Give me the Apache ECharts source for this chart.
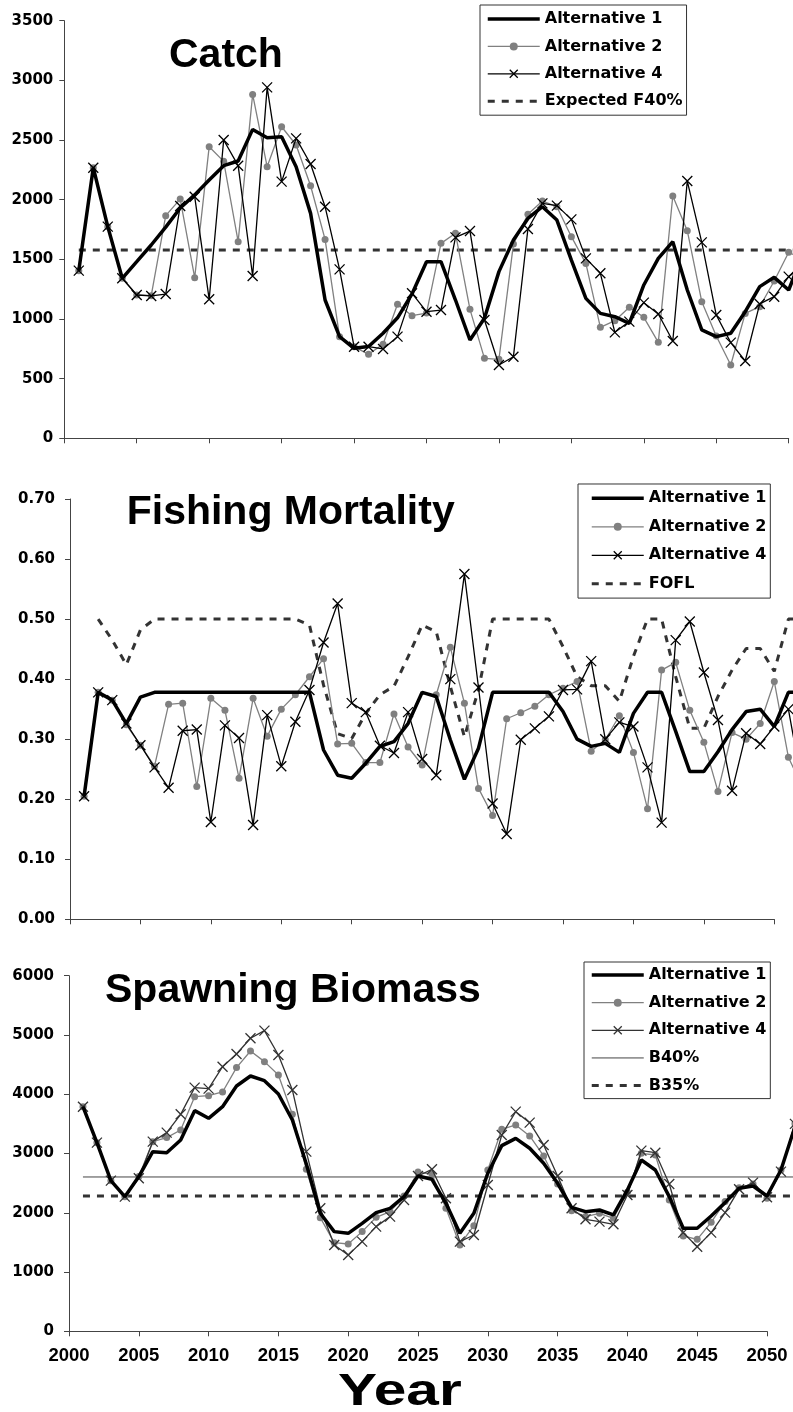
<!DOCTYPE html>
<html><head><meta charset="utf-8">
<script src="https://cdn.jsdelivr.net/npm/echarts@6/dist/echarts.min.js"></script>
<style>
html,body{margin:0;padding:0;background:#fff;width:793px;height:1412px;overflow:hidden;position:relative}
.c{position:absolute;left:0;width:900px}
</style></head>
<body>
<div id="c1" class="c" style="top:0;height:470px"></div>
<div id="c2" class="c" style="top:470px;height:480px"></div>
<div id="c3" class="c" style="top:950px;height:462px"></div>
<script>
// ---------- DATA ----------
const years = [2001,2002,2003,2004,2005,2006,2007,2008,2009,2010,
  2011,2012,2013,2014,2015,2016,2017,2018,2019,2020,
  2021,2022,2023,2024,2025,2026,2027,2028,2029,2030,
  2031,2032,2033,2034,2035,2036,2037,2038,2039,2040,
  2041,2042,2043,2044,2045,2046,2047,2048,2049,2050,
  2051,2052];

// Catch (2001-2051)
const catchAlt1 = [1405,2268,1774,1341,1480,1620,1770,1930,2040,2165,
  2285,2324,2589,2519,2528,2276,1885,1159,852,754,
  770,880,1010,1210,1480,1480,1159,824,1006,1397,
  1662,1843,1941,1829,1494,1173,1047,1019,964,1285,
  1508,1648,1243,908,852,880,1061,1271,1349,1243,1550];
const catchAlt2 = [1405,2268,1774,1341,1201,1195,1866,2005,1346,2444,
  2321,1648,2882,2276,2611,2458,2117,1667,852,768,
  704,788,1123,1028,1050,1634,1718,1081,670,662,
  1628,1877,1989,1941,1690,1466,930,986,1098,1014,
  804,2031,1740,1145,857,614,1047,1103,1318,1559,1500];
const catchAlt4 = [1405,2268,1774,1341,1201,1193,1209,1947,2025,1165,
  2500,2285,1360,2941,2151,2514,2299,1941,1416,768,
  768,749,852,1215,1061,1075,1684,1737,991,614,
  684,1754,1969,1950,1835,1508,1383,888,978,1137,
  1042,816,2156,1642,1033,802,648,1126,1187,1355,1450];
const catchF40 = 1578;
const catchF40Years = [2001, 2052];

// Fishing mortality (2001-2052)
const fAlt1 = [0.205,0.378,0.365,0.326,0.370,0.378,0.378,0.378,0.378,0.378,
  0.378,0.378,0.378,0.378,0.378,0.378,0.378,0.282,0.240,0.235,
  0.260,0.288,0.296,0.326,0.378,0.371,0.299,0.233,0.285,0.378,
  0.378,0.378,0.378,0.378,0.346,0.300,0.288,0.293,0.278,0.343,
  0.378,0.378,0.313,0.246,0.246,0.279,0.316,0.346,0.350,0.321,
  0.378,0.378];
const fAlt2 = [0.205,0.378,0.365,0.324,0.290,0.255,0.358,0.360,0.221,0.368,
  0.348,0.235,0.368,0.305,0.350,0.374,0.404,0.434,0.292,0.293,
  0.261,0.261,0.342,0.287,0.257,0.374,0.453,0.360,0.218,0.173,
  0.334,0.344,0.355,0.374,0.385,0.396,0.280,0.299,0.339,0.278,
  0.184,0.415,0.428,0.348,0.295,0.213,0.311,0.300,0.326,0.396,
  0.270,0.220];
const fAlt4 = [0.205,0.378,0.365,0.326,0.290,0.253,0.219,0.314,0.316,0.162,
  0.323,0.302,0.157,0.340,0.255,0.329,0.382,0.461,0.526,0.360,
  0.345,0.289,0.277,0.345,0.267,0.240,0.400,0.575,0.386,0.193,
  0.142,0.299,0.318,0.338,0.382,0.383,0.430,0.300,0.328,0.321,
  0.253,0.161,0.465,0.496,0.411,0.332,0.214,0.310,0.292,0.321,
  0.350,0.220];
// FOFL (2002-2052)
const fofl = [0.500,0.465,0.424,0.482,0.500,0.500,0.500,0.500,0.500,0.500,
  0.500,0.500,0.500,0.500,0.500,0.490,0.390,0.309,0.301,0.343,
  0.374,0.388,0.437,0.490,0.479,0.388,0.304,0.382,0.500,0.500,
  0.500,0.500,0.500,0.454,0.404,0.389,0.389,0.363,0.438,0.500,
  0.500,0.404,0.318,0.318,0.371,0.415,0.451,0.451,0.413,0.500,0.500];
const foflStartYear = 2002;

// Spawning biomass (2001-2052)
const sbAlt1 = [3790,3183,2542,2272,2610,3031,3014,3228,3723,3594,
  3790,4139,4308,4229,4004,3566,2823,1991,1682,1653,
  1822,2002,2075,2272,2621,2565,2160,1653,1991,2666,
  3133,3256,3088,2835,2497,2092,2019,2047,1963,2385,
  2891,2722,2272,1738,1738,1946,2171,2413,2452,2283,
  2722,3450];
const sbAlt2 = [3790,3183,2542,2272,2610,3200,3268,3397,3959,3976,
  4038,4449,4730,4550,4325,3661,2733,1918,1496,1473,
  1682,1923,2019,2283,2688,2650,2075,1457,1783,2722,
  3408,3481,3296,2958,2486,2036,1935,1991,1907,2345,
  3003,2975,2216,1608,1552,1839,2188,2424,2486,2244,
  2722,3500];
const sbAlt4 = [3790,3183,2542,2272,2581,3200,3352,3661,4111,4094,
  4465,4679,4944,5073,4662,4072,3031,2075,1457,1288,
  1513,1766,1935,2216,2621,2733,2244,1513,1625,2469,
  3312,3706,3521,3144,2621,2075,1890,1850,1805,2300,
  3048,3014,2486,1665,1428,1665,2002,2396,2508,2261,
  2694,3500];
const b40 = 2604;
const b35 = 2283;
const refYears = [2001, 2052];

const xAxisMin = 2000, xAxisMax = 2050, xAxisStep = 5; // drawn axis
const dataMax = 2052;                                   // data run past the axis end

// ---------- HELPERS ----------
const LEG_FONT = '"DejaVu Sans", sans-serif';
const ARIAL = '"Liberation Sans", Arial, sans-serif';
const AXIS_COLOR = '#444';
const X_SYMBOL = 'path://M0,0L10,10M10,0L0,10';

function pairs(startYear, vals) {
  const i0 = years.indexOf(startYear);
  return vals.map((v, i) => [years[i0 + i], v]);
}
function refPairs(ys, v) { return ys.map(y => [y, v]); }

const onB = { xAxisIndex: 1, yAxisIndex: 1 };
function s1(vals) {
  return Object.assign({ name: 'Alternative 1', type: 'line', data: pairs(2001, vals), symbol: 'none',
    lineStyle: { color: '#000', width: 3.5 }, itemStyle: { color: '#000' }, clip: false, z: 5 }, onB);
}
function s2(vals) {
  return Object.assign({ name: 'Alternative 2', type: 'line', data: pairs(2001, vals), symbol: 'circle', symbolSize: 7,
    lineStyle: { color: '#808080', width: 1.3 }, itemStyle: { color: '#808080', borderWidth: 0 }, clip: false, z: 3 }, onB);
}
function s4(vals, col) {
  return Object.assign({ name: 'Alternative 4', type: 'line', data: pairs(2001, vals), symbol: X_SYMBOL, symbolSize: 10,
    lineStyle: { color: col, width: 1.3 }, itemStyle: { color: col, borderColor: col, borderWidth: 1.3 }, clip: false, z: 4 }, onB);
}
function sDash(name, data) {
  return Object.assign({ name: name, type: 'line', data: data, symbol: 'none',
    lineStyle: { color: '#333', width: 3, type: [7, 7] }, itemStyle: { color: '#333' }, clip: false, z: 2 }, onB);
}
function sThin(name, data) {
  return Object.assign({ name: name, type: 'line', data: data, symbol: 'none',
    lineStyle: { color: '#444', width: 1 }, itemStyle: { color: '#444' }, clip: false, z: 2 }, onB);
}

function grids(left, top, width, height) {
  const per = width / (xAxisMax - xAxisMin);
  return [
    { left: left, top: top, width: width, height: height },
    { left: left, top: top, width: per * (dataMax - xAxisMin), height: height }
  ];
}
function xAxes(showLabels) {
  return [
    { type: 'value', gridIndex: 0, min: xAxisMin, max: xAxisMax, interval: xAxisStep,
      axisLine: { onZero: false, lineStyle: { color: AXIS_COLOR, width: 1 } },
      axisTick: { length: 5, lineStyle: { color: AXIS_COLOR } },
      splitLine: { show: false },
      axisLabel: { show: showLabels, margin: 15, color: '#000', fontFamily: ARIAL, fontWeight: 'bold', fontSize: 18.5,
        formatter: v => String(v) } },
    { type: 'value', gridIndex: 1, min: xAxisMin, max: dataMax, show: false, splitLine: { show: false } }
  ];
}
function yAxes(max, interval, margin, fmt) {
  return [
    { type: 'value', gridIndex: 0, min: 0, max: max, interval: interval,
      axisLine: { show: true, lineStyle: { color: AXIS_COLOR, width: 1 } },
      axisTick: { show: true, length: 5, lineStyle: { color: AXIS_COLOR } },
      splitLine: { show: false },
      axisLabel: { margin: margin, color: '#000', fontFamily: LEG_FONT, fontWeight: 'bold', fontSize: 15, formatter: fmt } },
    { type: 'value', gridIndex: 1, min: 0, max: max, show: false, splitLine: { show: false } }
  ];
}
const noSym = { itemStyle: { opacity: 0 } };
function legendCfg(items, left, top, padding, gap) {
  return { orient: 'vertical', left: left, top: top, padding: padding, itemGap: gap,
    itemWidth: 52, itemHeight: 10, backgroundColor: '#fff', borderColor: '#333', borderWidth: 1, borderRadius: 0,
    data: items, selectedMode: false,
    lineStyle: { width: 'inherit' }, itemStyle: { borderWidth: 'inherit' },
    textStyle: { color: '#000', fontFamily: LEG_FONT, fontWeight: 'bold', fontSize: 16, lineHeight: 18 } };
}
function titleText(txt, x, y, size, scaleX) {
  return { type: 'text', x: x, y: y, scaleX: scaleX || 1, z: 10,
    style: { text: txt, font: 'bold ' + size + 'px ' + ARIAL, fill: '#000',
      align: 'left', verticalAlign: 'middle', textAlign: 'left', textVerticalAlign: 'middle' } };
}
function li(name, hideSymbol) { return hideSymbol ? Object.assign({ name: name }, noSym) : { name: name }; }

// ---------- CHART 1: Catch ----------
const ch1 = echarts.init(document.getElementById('c1'), null, { renderer: 'canvas' });
ch1.setOption({
  animation: false,
  grid: grids(64.3, 20.7, 724.4, 417.6),
  xAxis: xAxes(false),
  yAxis: yAxes(3500, 500, 11, v => String(v)),
  legend: legendCfg([li('Alternative 1', true), li('Alternative 2'), li('Alternative 4'), li('Expected F40%', true)],
    480, 5, [5, 4, 5, 6], 9.4),
  graphic: [titleText('Catch', 169, 56, 41)],
  series: [
    sDash('Expected F40%', refPairs(catchF40Years, catchF40)),
    s2(catchAlt2), s4(catchAlt4, '#000'), s1(catchAlt1)
  ]
});

// ---------- CHART 2: Fishing mortality ----------
const ch2 = echarts.init(document.getElementById('c2'), null, { renderer: 'canvas' });
ch2.setOption({
  animation: false,
  grid: grids(70, 29, 704.3, 420.3),
  xAxis: xAxes(false),
  yAxis: yAxes(0.7, 0.1, 15, v => v.toFixed(2)),
  legend: legendCfg([li('Alternative 1', true), li('Alternative 2'), li('Alternative 4'), li('FOFL', true)],
    578, 14, [5.3, 4, 5.3, 12], 10.5),
  graphic: [titleText('Fishing Mortality', 126.7, 43, 41)],
  series: [
    sDash('FOFL', pairs(foflStartYear, fofl)),
    s2(fAlt2), s4(fAlt4, '#000'), s1(fAlt1)
  ]
});

// ---------- CHART 3: Spawning biomass ----------
const ch3 = echarts.init(document.getElementById('c3'), null, { renderer: 'canvas' });
ch3.setOption({
  animation: false,
  grid: grids(69, 25.7, 698, 355.6),
  xAxis: xAxes(true),
  yAxis: yAxes(6000, 1000, 15, v => String(v)),
  legend: legendCfg([li('Alternative 1', true), li('Alternative 2'), li('Alternative 4'), li('B40%', true), li('B35%', true)],
    584, 12, [4, 4, 4, 6], 9.65),
  graphic: [
    titleText('Spawning Biomass', 105, 41, 41),
    titleText('Year', 338, 443, 44, 1.33)
  ],
  series: [
    sThin('B40%', refPairs(refYears, b40)),
    sDash('B35%', refPairs(refYears, b35)),
    s2(sbAlt2), s4(sbAlt4, '#333'), s1(sbAlt1)
  ]
});
</script>
</body></html>
